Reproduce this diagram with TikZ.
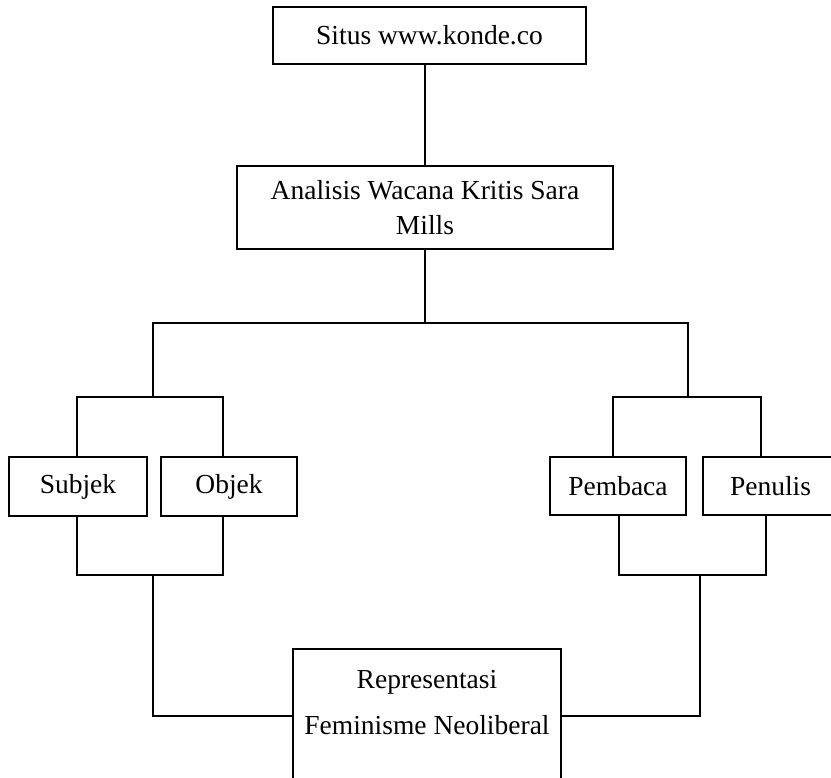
\documentclass[tikz,border=0pt]{standalone}
\usepackage{fontspec}
\setmainfont{Liberation Serif}
\tikzset{
  box/.style={draw, line width=2.6pt, rectangle, inner sep=0pt, align=center},
  link/.style={line width=2.6pt}
}
\begin{document}
\begin{tikzpicture}[x=1pt, y=-1pt, font=\fontsize{27.5}{35}\selectfont]
    \useasboundingbox (0,0) rectangle (831,778);
    \clip (0,0) rectangle (831,778);
    % Nodes
    \node[box, minimum width=313, minimum height=57] (situs) at (429.5,35.5) {Situs www.konde.co};
    \node[box, minimum width=376, minimum height=83] (analisis) at (425,207.5) {Analisis Wacana Kritis Sara\\Mills};
    \node[box, minimum width=138, minimum height=59] (subjek) at (78,486.5) {Subjek};
    \node[box, minimum width=136, minimum height=59] (objek) at (229,486.5) {Objek};
    \node[box, minimum width=136, minimum height=58] (pembaca) at (618,486) {Pembaca};
    \node[box, minimum width=135, minimum height=58] (penulis) at (770.5,486) {Penulis};
    \node[box, minimum width=268, minimum height=134] (repr) at (427,716) {};
    \node[align=center] (reprtext) at (427,703) {Representasi\\[11pt]Feminisme Neoliberal};
    % Junctions
    \coordinate (lsplit) at (153,323);
    \coordinate (rsplit) at (688,323);
    \coordinate (ltop) at (153,397);
    \coordinate (rtop) at (688,397);
    \coordinate (lt1) at (77,397);
    \coordinate (lt2) at (223,397);
    \coordinate (rt1) at (613,397);
    \coordinate (rt2) at (761,397);
    \coordinate (lb1) at (77,575);
    \coordinate (lb2) at (223,575);
    \coordinate (rb1) at (619,575);
    \coordinate (rb2) at (766,575);
    \coordinate (lstem) at (153,575);
    \coordinate (rstem) at (700,575);
    % Edges
    \draw[link] (situs.south -| analisis.north) -- (analisis.north);
    \draw[link] (analisis.south) -- (analisis.south |- lsplit);
    \draw[link] (ltop) -- (lsplit) -- (rsplit) -- (rtop);
    \draw[link] (subjek.north -| lt1) -- (lt1) -- (lt2) -- (objek.north -| lt2);   % top left pair
    \draw[link] (pembaca.north -| rt1) -- (rt1) -- (rt2) -- (penulis.north -| rt2); % top right pair
    \draw[link] (subjek.south -| lb1) -- (lb1) -- (lb2) -- (objek.south -| lb2);
    \draw[link] (pembaca.south -| rb1) -- (rb1) -- (rb2) -- (penulis.south -| rb2);
    \draw[link] (lstem) |- (repr.west);
    \draw[link] (rstem) |- (repr.east);
\end{tikzpicture}
\end{document}
